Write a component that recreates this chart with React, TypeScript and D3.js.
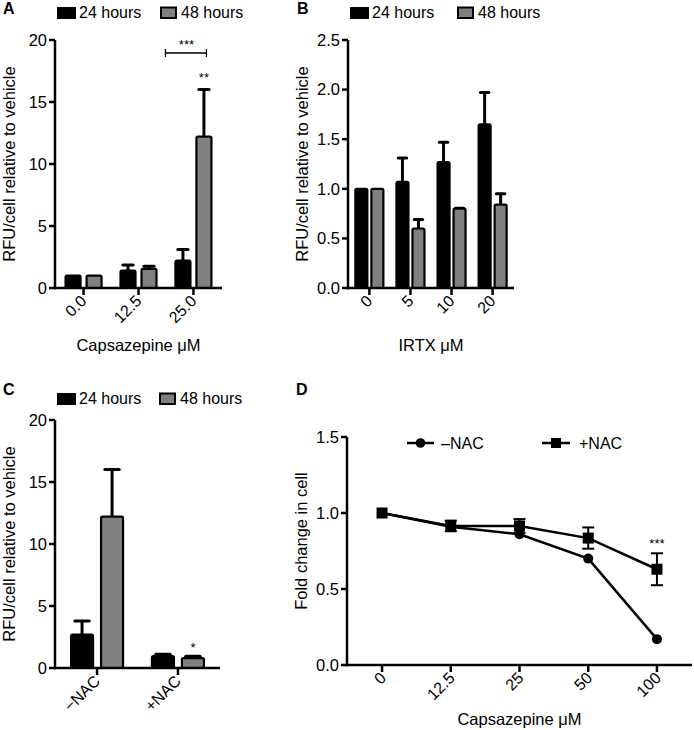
import React from "react";
import * as d3 from "d3";

// ---------- data ----------
const capsCategories = ["0.0", "12.5", "25.0"];
const caps24 = [1.0, 1.4, 2.2];
const caps24Err = [0, 0.45, 0.9];
const caps48 = [1.0, 1.55, 12.2];
const caps48Err = [0, 0.2, 3.8];

const irtxCategories = ["0", "5", "10", "20"];
const irtx24 = [1.0, 1.07, 1.27, 1.65];
const irtx24Err = [0, 0.24, 0.2, 0.32];
const irtx48 = [1.0, 0.6, 0.8, 0.84];
const irtx48Err = [0, 0.09, 0.005, 0.11];

const nacCategories = ["\u2212NAC", "+NAC"];
const nac24 = [2.7, 0.95];
const nac24Err = [1.1, 0.15];
const nac48 = [12.2, 0.8];
const nac48Err = [3.8, 0.15];

const doseCategories = ["0", "12.5", "25", "50", "100"];
const minusNAC = [1.0, 0.91, 0.86, 0.7, 0.17];
const plusNAC = [1.0, 0.915, 0.915, 0.835, 0.63];
const plusNACErr = [0, 0.035, 0.045, 0.07, 0.105];

const ticksRFU = [0, 5, 10, 15, 20];
const ticksIRTX = [0, 0.5, 1.0, 1.5, 2.0, 2.5];
const ticksFold = [0, 0.5, 1.0, 1.5];

const seriesLabels = ["24 hours", "48 hours"];
const lineLabels = ["\u2013NAC", "+NAC"];

const FONT = "'Liberation Sans', Arial, Helvetica, sans-serif";
const GRAY = "#808080";

type BarPanelProps = {
  letter: string;
  x0: number; x1: number; yTop: number; yBot: number;
  yMax: number; yTicks: number[]; yFmt: (v: number) => string;
  cats: string[]; a: number[]; aErr: number[]; b: number[]; bErr: number[];
  barW: number; gap: number;
  titleX: number; xTitle?: string;
  legendY: number; legendX: number[]; letterX: number; letterY: number;
  children?: (x: d3.ScalePoint<string>, y: d3.ScaleLinear<number, number>) => React.ReactNode;
};

function BarPanel(p: BarPanelProps) {
  const x = d3.scalePoint<string>().domain(p.cats).range([p.x0, p.x1]).padding(0.52);
  const y = d3.scaleLinear().domain([0, p.yMax]).range([p.yBot, p.yTop]);
  const capW = p.barW * 0.6;
  const bars = (vals: number[], errs: number[], side: number, fill: string) =>
    p.cats.map((c, i) => {
      const cx = (x(c) as number) + side * (p.gap / 2 + p.barW / 2);
      const top = y(vals[i]);
      const et = y(vals[i] + errs[i]);
      return (
        <g key={c + side}>
          {errs[i] > 0.001 && (
            <>
              <line x1={cx} x2={cx} y1={top} y2={et} stroke="#000" strokeWidth={3} />
              <line x1={cx - capW / 2} x2={cx + capW / 2} y1={et} y2={et} stroke="#000" strokeWidth={3} strokeLinecap="round" />
            </>
          )}
          <rect x={cx - p.barW / 2 + 1} y={top} width={p.barW - 2} height={p.yBot - top}
            fill={fill} stroke="#000" strokeWidth={2.2} rx={1.5} />
        </g>
      );
    });
  return (
    <g fontFamily={FONT}>
      <text x={p.letterX} y={p.letterY} fontSize={16} fontWeight="bold">{p.letter}</text>
      {/* legend */}
      <rect x={p.legendX[0]} y={p.legendY - 11} width={19} height={12} fill="#000" />
      <text x={p.legendX[0] + 22} y={p.legendY} fontSize={16}>{seriesLabels[0]}</text>
      <rect x={p.legendX[1] + 1} y={p.legendY - 10.5} width={15} height={10.5} fill={GRAY} stroke="#000" strokeWidth={2} />
      <text x={p.legendX[1] + 21} y={p.legendY} fontSize={16}>{seriesLabels[1]}</text>
      {bars(p.a, p.aErr, -1, "#000")}
      {bars(p.b, p.bErr, 1, GRAY)}
      {/* axes */}
      <line x1={p.x0} x2={p.x0} y1={p.yTop} y2={p.yBot + 1.25} stroke="#000" strokeWidth={2.5} />
      <line x1={p.x0 - 1.25} x2={p.x1} y1={p.yBot} y2={p.yBot} stroke="#000" strokeWidth={2.5} />
      {p.yTicks.map((t) => (
        <g key={t}>
          <line x1={p.x0 - 6} x2={p.x0} y1={y(t)} y2={y(t)} stroke="#000" strokeWidth={2.5} />
          <text x={p.x0 - 8} y={y(t)} dy="0.35em" textAnchor="end" fontSize={16.5}>{p.yFmt(t)}</text>
        </g>
      ))}
      {p.cats.map((c) => (
        <g key={c}>
          <line x1={x(c)} x2={x(c)} y1={p.yBot} y2={p.yBot + 7} stroke="#000" strokeWidth={2.5} />
          <text transform={`translate(${(x(c) as number) + 4},${p.yBot + 14}) rotate(-45)`} textAnchor="end" fontSize={16}>{c}</text>
        </g>
      ))}
      <text transform={`translate(${p.titleX},${(p.yTop + p.yBot) / 2}) rotate(-90)`} textAnchor="middle" fontSize={16.5}>
        RFU/cell relative to vehicle
      </text>
      {p.xTitle && (
        <text x={(p.x0 + p.x1) / 2} y={p.yBot + 63} textAnchor="middle" fontSize={16.5}>{p.xTitle}</text>
      )}
      {p.children && p.children(x, y)}
    </g>
  );
}

function LinePanel() {
  const x0 = 347, x1 = 692, yTop = 437, yBot = 665;
  const x = d3.scalePoint<string>().domain(doseCategories).range([x0, x1]).padding(0.51);
  const y = d3.scaleLinear().domain([0, 1.5]).range([yBot, yTop]);
  const line = d3.line<number>().x((_, i) => x(doseCategories[i]) as number).y((v) => y(v));
  const legY = 443;
  return (
    <g fontFamily={FONT}>
      <text x={296} y={395} fontSize={16} fontWeight="bold">D</text>
      {/* legend */}
      <line x1={407} x2={434} y1={legY} y2={legY} stroke="#000" strokeWidth={2.5} />
      <circle cx={420.5} cy={legY} r={4.8} fill="#000" />
      <text x={441} y={legY} dy="0.35em" fontSize={16}>{lineLabels[0]}</text>
      <line x1={542} x2={570} y1={legY} y2={legY} stroke="#000" strokeWidth={2.5} />
      <rect x={551} y={legY - 5} width={10} height={10} fill="#000" />
      <text x={579} y={legY} dy="0.35em" fontSize={16}>{lineLabels[1]}</text>
      {/* error bars */}
      {plusNAC.map((v, i) =>
        plusNACErr[i] > 0 ? (
          <g key={i} stroke="#000" strokeWidth={2}>
            <line x1={x(doseCategories[i])} x2={x(doseCategories[i])} y1={y(v - plusNACErr[i])} y2={y(v + plusNACErr[i])} />
            <line x1={(x(doseCategories[i]) as number) - 6} x2={(x(doseCategories[i]) as number) + 6} y1={y(v - plusNACErr[i])} y2={y(v - plusNACErr[i])} />
            <line x1={(x(doseCategories[i]) as number) - 6} x2={(x(doseCategories[i]) as number) + 6} y1={y(v + plusNACErr[i])} y2={y(v + plusNACErr[i])} />
          </g>
        ) : null
      )}
      <path d={line(minusNAC) || ""} fill="none" stroke="#000" strokeWidth={2.5} />
      <path d={line(plusNAC) || ""} fill="none" stroke="#000" strokeWidth={2.5} />
      {minusNAC.map((v, i) => (
        <circle key={"c" + i} cx={x(doseCategories[i])} cy={y(v)} r={5} fill="#000" />
      ))}
      {plusNAC.map((v, i) => (
        <rect key={"s" + i} x={(x(doseCategories[i]) as number) - 5.5} y={y(v) - 5.5} width={11} height={11} fill="#000" />
      ))}
      <text x={x("100")} y={y(0.77)} textAnchor="middle" fontSize={13}>***</text>
      {/* axes */}
      <line x1={x0} x2={x0} y1={yTop} y2={yBot + 1.25} stroke="#000" strokeWidth={2.5} />
      <line x1={x0 - 1.25} x2={x1} y1={yBot} y2={yBot} stroke="#000" strokeWidth={2.5} />
      {ticksFold.map((t) => (
        <g key={t}>
          <line x1={x0 - 6} x2={x0} y1={y(t)} y2={y(t)} stroke="#000" strokeWidth={2.5} />
          <text x={x0 - 8} y={y(t)} dy="0.35em" textAnchor="end" fontSize={16.5}>{t.toFixed(1)}</text>
        </g>
      ))}
      {doseCategories.map((c) => (
        <g key={c}>
          <line x1={x(c)} x2={x(c)} y1={yBot} y2={yBot + 7} stroke="#000" strokeWidth={2.5} />
          <text transform={`translate(${(x(c) as number) + 5},${yBot + 14}) rotate(-45)`} textAnchor="end" fontSize={16}>{c}</text>
        </g>
      ))}
      <text transform={`translate(307,541) rotate(-90)`} textAnchor="middle" fontSize={16.5}>
        Fold change in cell
      </text>
      <text x={(x0 + x1) / 2} y={725} textAnchor="middle" fontSize={16.5}>Capsazepine {"\u03bc"}M</text>
    </g>
  );
}

export default function App() {
  return (
    <svg width={694} height={730} style={{ position: "absolute", left: 0, top: 0, background: "#fff" }}>
      <rect width={694} height={730} fill="#fff" />
      <BarPanel
        letter="A" letterX={3} letterY={14}
        x0={55} x1={222} yTop={40} yBot={288} yMax={20} yTicks={ticksRFU} yFmt={(v) => String(v)}
        cats={capsCategories} a={caps24} aErr={caps24Err} b={caps48} bErr={caps48Err}
        barW={17} gap={4} titleX={15} xTitle={"Capsazepine \u03bcM"}
        legendY={18} legendX={[57, 160]}
      >
        {(x, y) => {
          const c = x("25.0") as number;
          const yb = y(18.95);
          return (
            <g>
              <line x1={c - 28} x2={c + 13} y1={yb} y2={yb} stroke="#000" strokeWidth={1.3} />
              <line x1={c - 28} x2={c - 28} y1={yb - 4} y2={yb + 4} stroke="#000" strokeWidth={1.3} />
              <line x1={c + 13} x2={c + 13} y1={yb - 4} y2={yb + 4} stroke="#000" strokeWidth={1.3} />
              <text x={c - 7} y={y(19.3)} textAnchor="middle" fontSize={13}>***</text>
              <text x={c + 10.5} y={y(16.6)} textAnchor="middle" fontSize={13}>**</text>
            </g>
          );
        }}
      </BarPanel>
      <BarPanel
        letter="B" letterX={297} letterY={14}
        x0={348} x1={514} yTop={40} yBot={288} yMax={2.5} yTicks={ticksIRTX} yFmt={(v) => v.toFixed(1)}
        cats={irtxCategories} a={irtx24} aErr={irtx24Err} b={irtx48} bErr={irtx48Err}
        barW={14} gap={2} titleX={308} xTitle={"IRTX \u03bcM"}
        legendY={18} legendX={[350, 457]}
      />
      <BarPanel
        letter="C" letterX={3} letterY={395}
        x0={55} x1={220} yTop={420} yBot={668} yMax={20} yTicks={ticksRFU} yFmt={(v) => String(v)}
        cats={nacCategories} a={nac24} aErr={nac24Err} b={nac48} bErr={nac48Err}
        barW={24} gap={6} titleX={15}
        legendY={404} legendX={[57, 159]}
      >
        {(x, y) => {
          const c = (x("+NAC") as number) + 3 + 12;
          return <text x={c} y={y(1.3)} textAnchor="middle" fontSize={13}>*</text>;
        }}
      </BarPanel>
      <LinePanel />
    </svg>
  );
}
